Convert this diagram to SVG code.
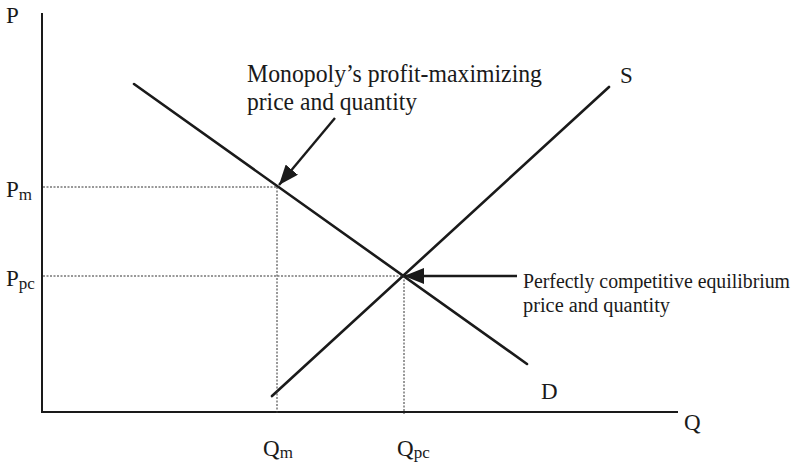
<svg xmlns="http://www.w3.org/2000/svg" width="800" height="466" viewBox="0 0 800 466">
<style>
text{font-family:"Liberation Serif","Times New Roman",serif;fill:#1a1a1a}
.lbl{font-size:23px}
.sub{font-size:17px}
.note{font-size:25px}
.note2{font-size:20px}
.axis{stroke:#1a1a1a;stroke-width:2;fill:none}
.curve{stroke:#1a1a1a;stroke-width:2.6;fill:none;stroke-linecap:round}
.dot{stroke:#333;stroke-width:1;stroke-dasharray:2 1.5;fill:none}
.arr{stroke:#1a1a1a;stroke-width:2.4;fill:none}
</style>
<defs>
<marker id="ah" viewBox="0 0 20 16" refX="20" refY="8" markerWidth="20" markerHeight="16" markerUnits="userSpaceOnUse" orient="auto">
<path d="M0,0 L20,8 L0,16 z" fill="#1a1a1a"/>
</marker>
</defs>
<rect width="800" height="466" fill="#fff"/>
<g id="axes">
<line class="axis" x1="42" y1="13" x2="42" y2="412"/>
<line class="axis" x1="41" y1="412" x2="678" y2="412"/>
<text class="lbl" x="6" y="23">P</text>
<text class="lbl" x="684" y="430">Q</text>
</g>
<g id="demand">
<line class="curve" x1="134" y1="84" x2="527" y2="364"/>
<text class="lbl" x="541" y="399">D</text>
</g>
<g id="supply">
<line class="curve" x1="272" y1="396" x2="609" y2="87"/>
<text class="lbl" x="620" y="83">S</text>
</g>
<g id="guides">
<line class="dot" x1="43" y1="187" x2="277" y2="187"/>
<line class="dot" x1="277" y1="187" x2="277" y2="414"/>
<line class="dot" x1="43" y1="276" x2="404" y2="276"/>
<line class="dot" x1="404" y1="276" x2="404" y2="414"/>
</g>
<g id="ticks">
<text class="lbl" x="6" y="197">P<tspan class="sub" dy="3">m</tspan></text>
<text class="lbl" x="6" y="286">P<tspan class="sub" dy="3">pc</tspan></text>
<text class="lbl" x="263" y="456">Q<tspan class="sub" dy="2">m</tspan></text>
<text class="lbl" x="397" y="456">Q<tspan class="sub" dy="2">pc</tspan></text>
</g>
<g id="monopoly-note">
<text class="note" x="247" y="82" textLength="295" lengthAdjust="spacingAndGlyphs">Monopoly’s profit-maximizing</text>
<text class="note" x="247" y="110" textLength="170" lengthAdjust="spacingAndGlyphs">price and quantity</text>
</g>
<g id="competitive-note">
<text class="note2" x="523" y="288" textLength="267" lengthAdjust="spacingAndGlyphs">Perfectly competitive equilibrium</text>
<text class="note2" x="523" y="312" textLength="147" lengthAdjust="spacingAndGlyphs">price and quantity</text>
</g>
<g id="connectors">
<line class="arr" x1="335" y1="118" x2="279" y2="185" marker-end="url(#ah)"/>
<line class="arr" x1="517" y1="276" x2="404" y2="276" marker-end="url(#ah)"/>
</g>
</svg>
